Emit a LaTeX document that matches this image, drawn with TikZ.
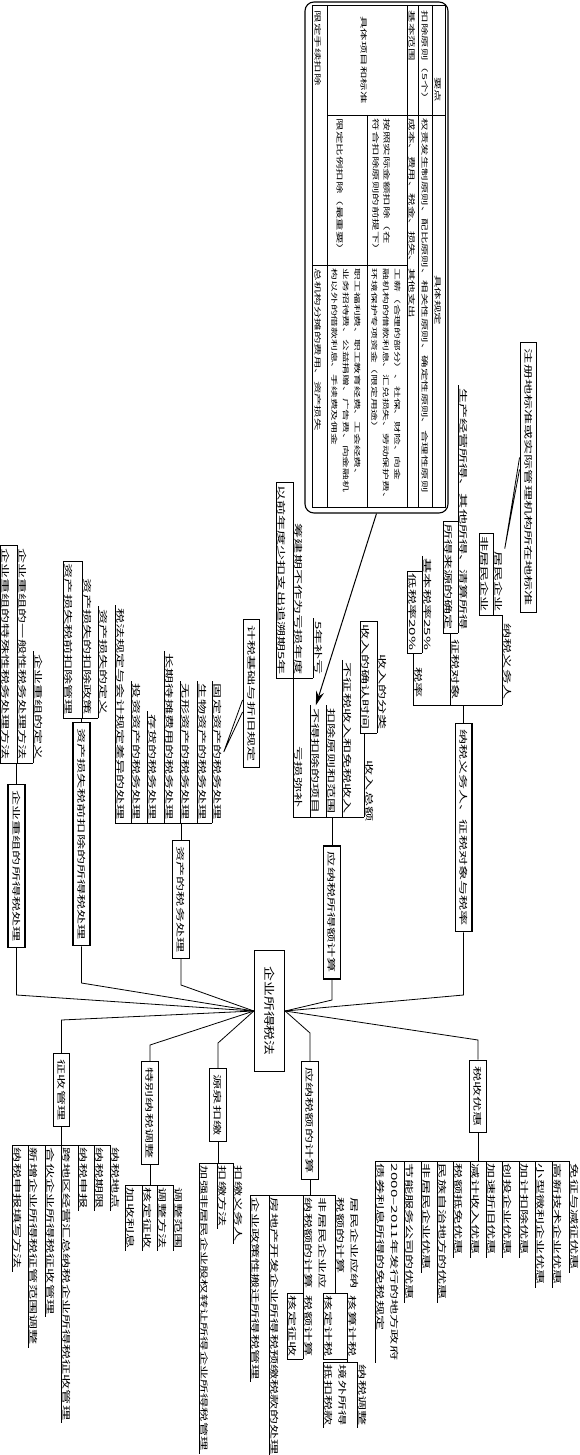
\documentclass[tikz,border=0pt]{standalone}
\usepackage{fontspec}
\setmainfont{Noto Sans CJK SC}[FakeStretch=1.78]
\newfontfamily\rootfont{Noto Sans CJK SC}[FakeStretch=1.35]
\usetikzlibrary{arrows.meta}

\begin{document}
\begin{tikzpicture}[x=1pt, y=-1pt, line width=0.8pt,
	every node/.style={font=\fontsize{8.5}{13.5}\selectfont},
	rootbox/.style={draw, line width=1.1pt, rotate=-90, inner xsep=16pt, inner ysep=10pt, font=\rootfont\fontsize{11}{13}\selectfont},
	topic/.style={draw, line width=1.1pt, rotate=-90, inner xsep=6pt, inner ysep=4.5pt},
	lleaf/.style={rotate=-90, anchor=south east, align=left, inner xsep=2.5pt, inner ysep=1.5pt},
	rleaf/.style={rotate=-90, anchor=south west, align=left, inner xsep=2.5pt, inner ysep=1.5pt},
	lmid/.style={rotate=-90, anchor=south, inner sep=1.5pt},
	cell/.style={rotate=-90, anchor=west, align=left, inner sep=0.5pt, font=\fontsize{7}{11.5}\selectfont}]
	\useasboundingbox (0,0) rectangle (580,1455);

	% 中心
	\node (root) [rootbox] at (269.5,1011) {企业所得税法};

	% 一级主题
	\node (b1) [topic] at (463.5,827.5) {纳税义务人、征税对象与税率};
	\node (b2) [topic] at (332,912.5) {应纳税所得额计算};
	\node (b3) [topic] at (181,899.5) {资产的税务处理};
	\node (b4) [topic] at (81.5,834) {资产损失税前扣除的所得税处理};
	\node (b5) [topic] at (16.5,866) {企业重组的所得税处理};
	\node (b6) [topic] at (61.5,1090) {征收管理};
	\node (b7) [topic] at (150,1113) {特别纳税调整};
	\node (b8) [topic] at (218,1105) {源泉扣缴};
	\node (b9) [topic] at (310,1120.5) {应纳税额的计算};
	\node (b10) [topic] at (478,1096.5) {税收优惠};

	\coordinate (k1) at (463.5,995);
	\coordinate (k2) at (332,1000);
	\coordinate (k3) at (181,985);
	\coordinate (k4) at (81.5,983);
	\coordinate (k5) at (16.5,995);
	\coordinate (k6) at (61.5,1020);
	\coordinate (k7) at (150,1045);
	\coordinate (k8) at (218,1043);
	\coordinate (k9) at (310,1033);
	\coordinate (k10) at (478,1040);
	\foreach \i in {1,2,10,9} \draw (root.north) -- (k\i) -- (b\i.\ifnum\i<3 east\else west\fi);
	\foreach \i in {3,4,5} \draw (root.south) -- (k\i) -- (b\i.east);
	\foreach \i in {6,7,8} \draw (root.south) -- (k\i) -- (b\i.west);

	% 纳税义务人、征税对象与税率
	\coordinate (br1) at (463.5,705);
	\node (nsr) [lmid] at (502,661.5) {纳税义务人};
	\node (zsdx) [lmid] at (450,669.5) {征税对象};
	\node (sl) [lmid] at (413,682.5) {税率};
	\node (jmqy) [lleaf] at (493,615) {居民企业};
	\node (fjm) [lleaf] at (479,615) {非居民企业};
	\node (scjy) [lleaf] at (458,633) {生产经营所得、其他所得、清算所得};
	\node (syly) [lleaf] at (443,633) {所得来源的确定};
	\node (jbsl) [lleaf] at (422,653) {基本税率25\%};
	\node (dsl) [lleaf] at (407,653) {低税率20\%};
	\draw (b1.west) -- (br1);
	\draw (nsr.south |- br1) -- (sl.south |- br1);
	\draw (nsr.south |- br1) -- (nsr.south |- fjm.south east) -- (fjm.south east);
	\draw (zsdx.south |- br1) -- (zsdx.south |- syly.south east);
	\draw (syly.south east) -- (scjy.south east);
	\draw (sl.south |- br1) -- (sl.south |- dsl.south east);
	\draw (dsl.south east) -- (jbsl.south east);
	\draw (fjm.south west) -| (jmqy.south west);
	\draw (syly.south west) -| (scjy.south east);
	\draw (dsl.south west) -| (jbsl.south west);
	\node (zcd) [topic, line width=1pt] at (528.5,477.5) {注册地标准或实际管理机构所在地标准};
	\draw ([yshift=20pt]zcd.south) -- (jmqy.north west) -- ([yshift=8pt]zcd.south);

	% 应纳税所得额计算
	\coordinate (br2) at (332,817);
	\node (srze) [lmid] at (364,791) {收入总额};
	\node (bzs) [lleaf] at (342,817) {不征税收入和免税收入};
	\node (kcyz) [lleaf] at (326,817) {扣除原则和范围};
	\node (bdkc) [lleaf] at (310,817) {不得扣除的项目};
	\node (ksmb) [lmid] at (293,777) {亏损弥补};
	\node (srfl) [lleaf] at (377,733) {收入的分类};
	\node (srqr) [lleaf] at (360,733) {收入的确认时间};
	\node (bnbk) [lleaf] at (313,678) {5年补亏};
	\node (cjq) [lleaf] at (293,678) {筹建期不作为亏损年度};
	\node (yqnd) [lleaf] at (276,678) {以前年度少扣支出追溯期5年};
	\draw (b2.west) -- (br2);
	\draw (srze.south |- br2) -- (ksmb.south |- br2);
	\draw (srze.south |- br2) -- (srze.south |- srfl.south east);
	\draw (srqr.south east) -- (srfl.south east);
	\draw (srqr.south west) -| (srfl.south west);
	\draw (ksmb.south |- br2) -- (ksmb.south |- cjq.south east);
	\draw (yqnd.south east) -- (bnbk.south east);
	\draw (yqnd.south west) -| (cjq.south west);

	% 资产的税务处理
	\coordinate (br3) at (181,823);
	\node (gdzc) [lleaf] at (212,823) {固定资产的税务处理};
	\node (swzc) [lleaf] at (197,823) {生物资产的税务处理};
	\node (wxzc) [lleaf] at (180,823) {无形资产的税务处理};
	\node (cqdt) [lleaf] at (164,823) {长期待摊费用的税务处理};
	\node (ch) [lleaf] at (147,823) {存货的税务处理};
	\node (tzzc) [lleaf] at (131,823) {投资资产的税务处理};
	\node (sfgd) [lleaf] at (115,823) {税法规定与会计规定差异的处理};
	\draw (b3.west) -- (br3);
	\draw (gdzc.south east) -- (sfgd.south east);
	\node (jsjc) [topic, line width=1pt] at (251.5,693.5) {计税基础与折旧规定};
	\draw ([yshift=-6.5pt]jsjc.south) -- (gdzc.north) -- ([yshift=-18.5pt]jsjc.south);

	% 资产损失税前扣除的所得税处理
	\coordinate (br4) at (81.5,718);
	\node (dy) [lleaf] at (98,718) {资产损失的定义};
	\node (kczc) [lleaf] at (82,718) {资产损失的扣除政策};
	\node (sqkc) [lleaf] at (63,718) {资产损失税前扣除管理};
	\draw (b4.west) -- (br4);
	\draw (dy.south east) -- (sqkc.south east);
	\draw (sqkc.south west) -| (kczc.south west);

	% 企业重组的所得税处理
	\coordinate (br5) at (16.5,763);
	\node (cz1) [lleaf] at (33,763) {企业重组的定义};
	\node (cz2) [lleaf] at (17,763) {企业重组的一般性税务处理方法};
	\node (cz3) [lleaf] at (0,763) {企业重组的特殊性税务处理方法};
	\draw (b5.west) -- (br5);
	\draw (cz1.south east) -- (cz3.south east);
	\draw (cz3.south west) -| (cz2.south west);

	% 征收管理
	\coordinate (br6) at (61.5,1145);
	\node (nsdd) [rleaf] at (110,1145) {纳税地点};
	\node (nsqx) [rleaf] at (94,1145) {纳税期限};
	\node (nssb) [rleaf] at (78,1145) {纳税申报};
	\node (kdq) [rleaf] at (61,1145) {跨地区经营汇总纳税企业所得税征收管理};
	\node (hhqy) [rleaf] at (45,1145) {合伙企业所得税征收管理};
	\node (xzqy) [rleaf] at (28,1145) {新增企业所得税征管范围调整};
	\node (sbtx) [rleaf] at (12,1145) {纳税申报填写方法};
	\draw (b6.east) -- (br6);
	\draw (nsdd.south west) -- (sbtx.south west);

	% 特别纳税调整
	\coordinate (br7) at (150,1185);
	\node (tzfw) [rleaf] at (173,1185) {调整范围};
	\node (tzff) [rleaf] at (157,1185) {调整方法};
	\node (hdzs) [rleaf] at (142,1185) {核定征收};
	\node (jslx) [rleaf] at (125,1185) {加收利息};
	\draw (b7.east) -- (br7);
	\draw (tzfw.south west) -- (jslx.south west);

	% 源泉扣缴
	\coordinate (br8) at (218,1163);
	\node (kjyw) [rleaf] at (233,1163) {扣缴义务人};
	\node (kjff) [rleaf] at (217,1163) {扣缴方法};
	\node (jqfj) [rleaf, font=\fontsize{8}{10}\selectfont] at (199,1163) {加强非居民企业股权转让所得企业所得税管理};
	\draw (b8.east) -- (br8);
	\draw (kjyw.south west) -- (jqfj.south west);

	% 应纳税额的计算
	\coordinate (br9) at (310,1195);
	\node (jmyn) [rleaf] at (335,1195) {居民企业应纳\\税额的计算};
	\node (fjyn) [rleaf] at (303,1195) {非居民企业应\\纳税额的计算};
	\node (fdc) [rleaf] at (269,1195) {房地产开发企业所得税预缴税款的处理};
	\node (bq) [rleaf] at (250,1195) {企业政策性搬迁所得税管理};
	\node (hsjs) [rleaf] at (347,1293) {核算计税};
	\node (hdjs) [rleaf] at (323,1293) {核定计税};
	\node (nstz) [rleaf] at (357,1362) {纳税调整};
	\node (jwsd) [rleaf] at (323,1362) {境外所得\\抵扣税款};
	\node (sejs) [rleaf] at (303,1293) {税额计算};
	\node (hdzs2) [rleaf] at (287,1293) {核定征收};
	\draw (b9.east) -- (br9);
	\draw (jmyn.south west) -- (bq.south west);
	\draw (jmyn.south west) -- (jmyn.south west |- hdjs.south west) -- (hdjs.south west);
	\draw (hdjs.south west) -- (hsjs.south west);
	\draw (hsjs.south west) -- (hsjs.south west |- nstz.south west);
	\draw (jwsd.south west) -- (nstz.south west);
	\draw (fjyn.south west) -- (fjyn.south west |- hdzs2.south west) -- (hdzs2.south west);
	\draw (hdjs.south east) -- (hdjs.south east -| hsjs.south west);
	\draw (hdzs2.south east) -- (hdzs2.south east -| sejs.south west);

	% 税收优惠
	\coordinate (br10) at (478,1161);
	\node (mz) [rleaf] at (569,1161) {免征与减征优惠};
	\node (gx) [rleaf] at (552,1161) {高新技术企业优惠};
	\node (xw) [rleaf] at (535,1161) {小型微利企业优惠};
	\node (jj) [rleaf] at (519,1161) {加计扣除优惠};
	\node (ct) [rleaf] at (502,1161) {创投企业优惠};
	\node (js) [rleaf] at (486,1161) {加速折旧优惠};
	\node (jjsr) [rleaf] at (470,1161) {减计收入优惠};
	\node (sedm) [rleaf] at (453,1161) {税额抵免优惠};
	\node (mzzz) [rleaf] at (437,1161) {民族自治地方的优惠};
	\node (fjmyh) [rleaf] at (421,1161) {非居民企业优惠};
	\node (jnfw) [rleaf] at (404,1161) {节能服务公司的优惠};
	\node (zqlx) [rleaf] at (375,1161) {2000–2011年发行的地方政府\\债券利息所得的免税规定};
	\draw (b10.east) -- (br10);
	\draw (mz.south west) -- (zqlx.south west);

	% 叶子下划线
	\foreach \n in {jmqy,fjm,scjy,syly,jbsl,dsl,bzs,kcyz,bdkc,srfl,srqr,bnbk,cjq,yqnd,
		gdzc,swzc,wxzc,cqdt,ch,tzzc,sfgd,dy,kczc,sqkc,cz1,cz2,cz3,
		nsdd,nsqx,nssb,kdq,hhqy,xzqy,sbtx,tzfw,tzff,hdzs,jslx,kjyw,kjff,jqfj,
		jmyn,fjyn,fdc,bq,hsjs,hdjs,nstz,jwsd,sejs,hdzs2,
		mz,gx,xw,jj,ct,js,jjsr,sedm,mzzz,fjmyh,jnfw,zqlx}
		\draw (\n.south west) -- (\n.south east);

	% 扣除项目表
	\node (tbl) [draw, line width=1.1pt, rounded corners=9pt, minimum width=143pt, minimum height=511pt] at (376.5,257.5) {};
	\draw (312,5) rectangle (445,507);
	\foreach \x in {432,418,407,327} \draw (\x,5) -- (\x,507);
	\draw (367,115) -- (367,507);
	\draw (327,115) -- (445,115);
	\draw (312,265) -- (407,265);
	\node [cell, anchor=center] at (438,90) {要点};
	\node [cell, anchor=center] at (438,300) {具体规定};
	\node [cell] at (425,10) {扣除原则（5个）};
	\node [cell] at (425,118) {权责发生制原则、配比原则、相关性原则、确定性原则、合理性原则};
	\node [cell] at (412.5,10) {基本范围};
	\node [cell] at (412.5,118) {成本、费用、税金、损失、其他支出};
	\node [cell, anchor=center] at (364,60) {具体项目和标准};
	\node [cell] at (381.5,118) {按照实际金额扣除（在\\符合扣除原则的前提下）};
	\node [cell, font=\fontsize{6.6}{11.5}\selectfont] at (386,268) {工薪（合理的部分）、社保、财险、向金\\融机构的借款利息、汇兑损失、劳动保护费、\\环境保护专项资金（限定用途）};
	\node [cell] at (340,118) {限定比例扣除（最重要）};
	\node [cell, font=\fontsize{6.6}{11.5}\selectfont] at (346,268) {职工福利费、职工教育经费、工会经费、\\业务招待费、公益捐赠、广告费、向金融机\\构以外的借款利息、手续费及佣金};
	\node [cell] at (318,10) {限定手续扣除};
	\node [cell] at (318,268) {总机构分摊的费用、资产损失};
	\draw[-{Stealth[length=14pt,width=8pt]}, line width=1pt] (tbl.south) -- (bdkc.west);
\end{tikzpicture}
\end{document}
